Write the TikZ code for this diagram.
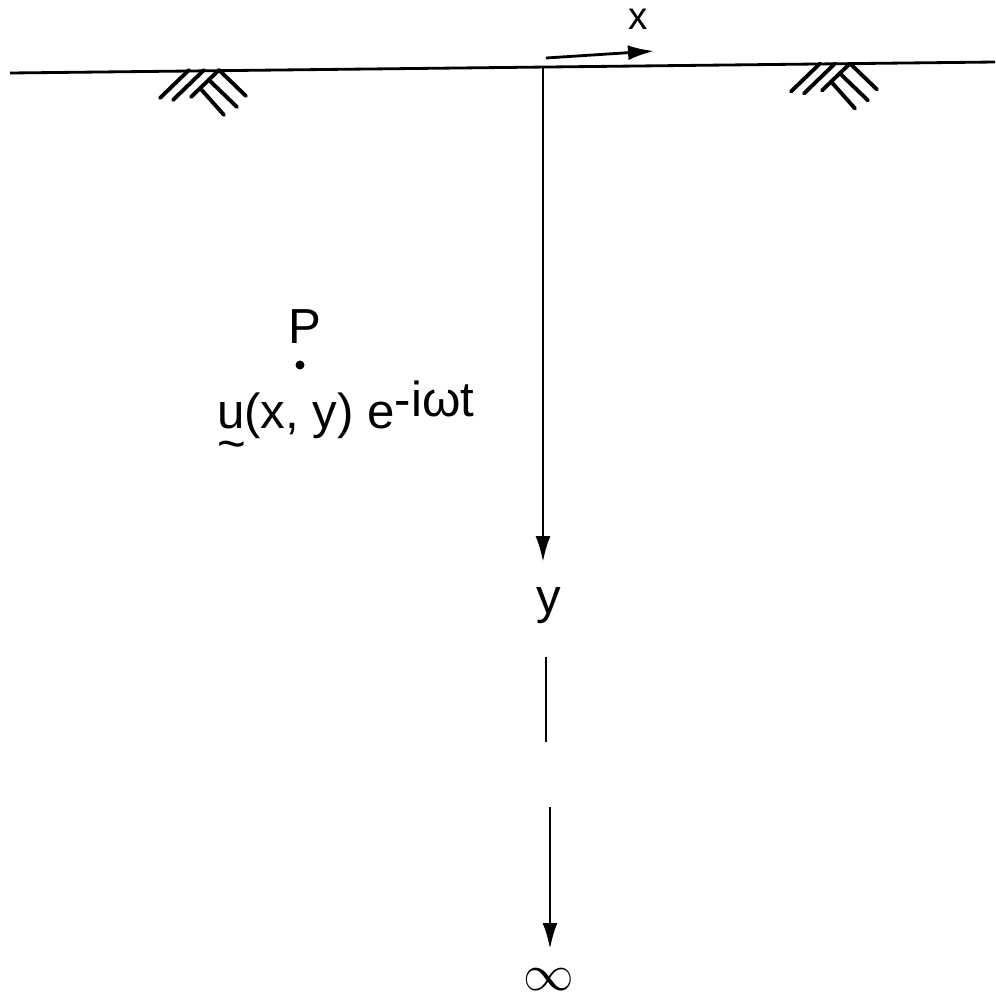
\documentclass[tikz,border=0pt]{standalone}
\usepackage{fontspec}
\setmainfont{Liberation Sans}
\usetikzlibrary{arrows.meta,positioning}
\newcommand{\tildeu}{\makebox[0pt][l]{\raisebox{-1.25ex}{\textasciitilde}}u}
\tikzset{
  axisline/.style={line width=0.8pt,draw=black},
  axisarrow/.style={-{Latex[length=2.6mm,width=1.5mm]},
    line width=0.8pt,draw=black},
  hatchline/.style={line width=1.1pt,line cap=round},
  axislabel/.style={font=\fontsize{14}{16}\selectfont,inner sep=1pt},
  smalllabel/.style={font=\fontsize{11}{13}\selectfont,inner sep=1pt},
  groundmark/.pic={
    \draw[hatchline] (-0.30,0) -- (-0.59,-0.28);
    \draw[hatchline] (-0.15,0) -- (-0.46,-0.30);
    \draw[hatchline] (0,0) -- (-0.28,-0.27);
    \draw[hatchline] (0,0) -- (0.27,-0.26);
    \draw[hatchline] (-0.10,-0.10) -- (0.18,-0.37);
    \draw[hatchline] (-0.19,-0.18) -- (0.05,-0.45);
  },
}

\begin{document}
\begin{tikzpicture}
    \useasboundingbox (0,0) rectangle (9.95,-10.01);
    % ground surface
    \coordinate (gl) at (0.10,-0.73);
    \coordinate (gr) at (9.95,-0.62);
    \coordinate (O) at (5.43,-0.66);
    \draw[axisline] (gl) -- (gr);
    \pic at (2.19,-0.70) {groundmark};
    \pic at (8.50,-0.635) {groundmark};
    % x direction
    \coordinate (xs) at (5.46,-0.58);
    \coordinate (xe) at (6.54,-0.51);
    \draw[axisarrow] (xs) -- (xe);
    \node[smalllabel] (xlab) at (6.38,-0.19) {x};
    % y direction
    \coordinate (ytip) at (5.43,-5.62);
    \draw[axisarrow] (O) -- (ytip);
    \node[axislabel] (ylab) at (5.49,-6.06) {y};
    \coordinate (ss) at (5.46,-6.57);
    \coordinate (se) at (5.46,-7.42);
    \draw[axisline] (ss) -- (se);
    \coordinate (ls) at (5.50,-8.07);
    \coordinate (le) at (5.50,-9.49);
    \draw[axisarrow] (ls) -- (le);
    \node[axislabel] (inf) at (5.49,-9.80) {$\infty$};
    % point P
    \node[axislabel] (plab) at (3.05,-3.27) {P};
    \fill (3.00,-3.65) circle (0.045) coordinate (pdot);
    \node[axislabel,anchor=base west] (disp) at (2.13,-4.28)
      {\tildeu(x, y) e\raisebox{0.45ex}{-iωt}};
\end{tikzpicture}
\end{document}
